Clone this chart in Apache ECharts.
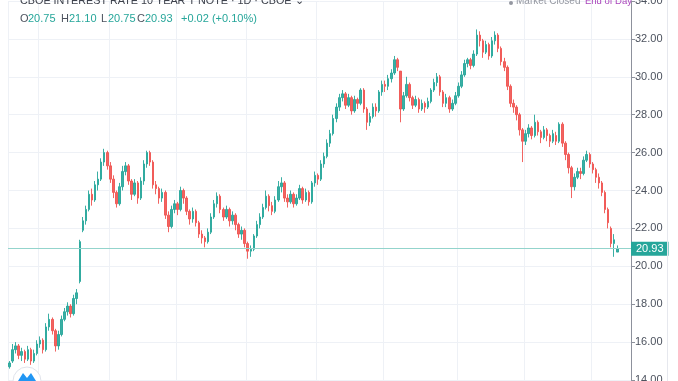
<!DOCTYPE html>
<html><head><meta charset="utf-8">
<script src="https://cdn.jsdelivr.net/npm/echarts@6/dist/echarts.min.js"></script>
<style>html,body{margin:0;padding:0;background:#fff}#c{width:678px;height:381px}</style>
</head><body><div id="c"></div>
<script>
const opens = [14.7,15.0,15.6,15.8,15.3,15.5,15.1,15.6,15.0,15.4,15.9,16.1,15.6,16.8,17.2,16.6,15.8,16.4,17.2,17.6,
17.9,17.5,18.3,19.2,21.9,22.4,23.0,23.8,23.5,24.3,24.6,25.5,26.0,25.3,24.6,23.9,23.3,24.2,25.0,25.3,
24.5,23.8,24.4,23.6,24.5,25.4,26.0,25.5,24.3,24.1,23.6,23.9,22.7,22.1,23.0,23.3,23.0,24.0,23.6,22.9,
22.5,22.9,22.3,21.7,21.5,21.3,21.8,22.6,23.3,23.7,23.0,22.6,23.0,22.4,22.7,22.2,21.7,21.9,21.2,20.8,
20.9,21.6,22.2,22.6,23.1,23.7,23.2,22.9,23.5,24.2,24.4,23.6,23.4,23.8,23.3,23.6,24.1,23.5,23.9,23.4,
24.4,24.8,24.6,25.4,25.8,26.5,27.0,27.8,28.4,28.9,29.1,28.5,28.9,28.2,28.8,28.6,29.3,28.3,27.6,27.9,
28.4,28.2,29.2,29.6,29.5,29.9,30.2,30.9,30.3,28.3,29.0,29.6,28.9,28.5,28.8,28.3,28.6,28.4,28.7,29.3,
29.7,30.0,29.2,28.6,28.9,28.3,28.6,29.0,29.5,30.1,30.7,30.9,30.6,31.2,32.2,31.9,31.3,31.7,31.1,31.9,
32.2,31.5,30.8,30.5,29.5,28.6,28.4,28.0,27.2,26.6,27.0,27.3,26.9,27.6,27.1,26.8,27.2,26.9,26.6,26.9,
26.6,27.5,26.5,25.9,25.2,24.2,24.7,25.0,24.9,25.6,25.9,25.4,25.1,24.7,24.4,23.9,23.0,22.0,21.2,20.75];
const closes = [14.9,15.6,15.8,15.3,15.5,15.1,15.6,15.0,15.4,15.9,16.1,15.6,16.8,17.2,16.6,15.8,16.4,17.2,17.6,17.9,
17.5,18.3,18.6,21.3,22.4,23.0,23.8,23.5,24.3,24.6,25.5,26.0,25.3,24.6,23.9,23.3,24.2,25.0,25.3,24.5,
23.8,24.4,23.6,24.5,25.4,26.0,25.5,24.3,24.1,23.6,23.9,22.7,22.1,23.0,23.3,23.0,24.0,23.6,22.9,22.5,
22.9,22.3,21.7,21.5,21.3,21.8,22.6,23.3,23.7,23.0,22.6,23.0,22.4,22.7,22.2,21.7,21.9,21.2,20.8,20.9,
21.6,22.2,22.6,23.1,23.7,23.2,22.9,23.5,24.2,24.4,23.6,23.4,23.8,23.3,23.6,24.1,23.5,23.9,23.4,24.4,
24.8,24.6,25.4,25.8,26.5,27.0,27.8,28.4,28.9,29.1,28.5,28.9,28.2,28.8,28.6,29.3,28.3,27.6,27.9,28.4,
28.2,29.2,29.6,29.5,29.9,30.2,30.9,30.5,28.3,29.0,29.6,28.9,28.5,28.8,28.3,28.6,28.4,28.7,29.3,29.7,
30.0,29.2,28.6,28.9,28.3,28.6,29.0,29.5,30.1,30.7,30.9,30.6,31.2,32.2,31.9,31.3,31.7,31.1,31.9,32.2,
31.5,30.8,30.5,29.5,28.6,28.4,28.0,27.2,26.6,27.0,27.3,26.9,27.6,27.1,26.8,27.2,26.9,26.6,27.0,26.6,
27.5,26.5,25.9,25.2,24.2,24.7,25.0,24.9,25.6,25.9,25.4,25.1,24.7,24.4,23.9,23.0,22.3,21.2,21.4,20.93];
const lows = [14.6,14.9,15.4,15.1,15.0,14.9,15.0,14.8,14.9,15.3,15.7,15.4,15.5,16.6,16.4,15.5,15.6,16.3,17.1,17.4,
17.3,17.4,18.0,19.1,21.8,22.2,22.9,23.2,23.4,24.0,24.5,25.3,25.1,24.4,23.6,23.1,23.2,24.0,24.8,24.3,
23.5,23.7,23.3,23.5,24.3,25.2,25.3,24.1,23.8,23.3,23.4,22.5,21.8,22.0,22.8,22.7,22.9,23.3,22.7,22.2,
22.3,22.1,21.5,21.2,21.0,21.2,21.7,22.5,23.1,22.8,22.4,22.5,22.1,22.2,21.9,21.5,21.4,21.0,20.4,20.5,
20.8,21.5,22.0,22.5,23.0,22.9,22.7,22.8,23.4,23.9,23.4,23.1,23.3,23.1,23.2,23.5,23.3,23.4,23.2,23.3,
24.2,24.3,24.5,25.2,25.7,26.3,26.9,27.6,28.2,28.7,28.3,28.4,28.0,28.1,28.3,28.5,28.1,27.2,27.4,27.8,
27.9,28.1,29.0,29.2,29.3,29.7,30.1,30.3,27.6,28.2,28.9,28.7,28.3,28.4,28.1,28.2,28.1,28.3,28.6,29.2,
29.5,29.0,28.4,28.4,28.1,28.2,28.5,28.9,29.4,30.0,30.5,30.4,30.5,31.1,31.6,31.0,31.2,30.9,31.0,31.7,
31.3,30.6,30.3,29.3,28.4,28.1,27.7,26.9,25.5,26.4,26.8,26.7,26.8,26.9,26.5,26.7,26.6,26.3,26.5,26.4,
26.5,26.3,25.6,24.9,23.6,24.0,24.6,24.6,24.8,25.5,25.2,24.9,24.4,24.1,23.7,22.8,22.0,21.0,20.5,20.75];
const highs = [15.0,15.9,16.0,15.9,15.7,15.6,15.8,15.7,15.6,16.1,16.3,16.2,17.0,17.5,17.3,16.7,16.6,17.4,17.8,18.1,
18.0,18.5,18.8,21.4,22.6,23.2,24.0,24.1,24.5,25.0,25.7,26.2,26.1,25.5,24.8,24.0,24.4,25.3,25.5,25.4,
24.6,24.6,24.5,24.7,25.6,26.1,26.1,25.6,24.5,24.2,24.1,24.0,22.9,23.2,23.5,23.4,24.2,24.1,23.7,23.0,
23.1,23.0,22.4,21.9,21.6,22.0,22.8,23.5,23.9,23.8,23.1,23.2,23.1,22.9,22.8,22.3,22.1,22.0,21.3,21.1,
21.7,22.4,22.8,23.3,24.0,23.8,23.4,23.7,24.5,24.7,24.5,23.8,24.0,23.9,23.8,24.3,24.2,24.1,24.0,24.5,
25.0,24.9,25.6,26.0,26.7,27.2,28.0,28.6,29.1,29.3,29.2,29.1,29.0,29.0,28.9,29.4,29.4,28.4,28.1,28.6,
28.6,29.3,29.8,29.8,30.1,30.4,31.1,31.0,30.3,29.2,30.0,29.7,29.0,29.0,28.9,28.8,28.7,28.9,29.4,29.9,
30.2,30.1,29.3,29.1,29.0,28.8,29.2,29.7,30.3,30.9,31.0,31.0,31.4,32.5,32.4,32.0,31.9,31.8,32.1,32.4,
32.3,31.6,31.0,30.6,29.6,28.8,28.5,28.1,27.3,27.2,27.5,27.4,28.0,27.7,27.2,27.4,27.3,27.0,27.2,27.1,
27.6,27.6,26.6,26.0,25.3,24.9,25.2,25.2,25.8,26.1,26.0,25.5,25.2,24.9,24.5,24.0,23.1,22.1,21.7,21.10];
const emptyTail = 4;             // blank bars to the right of the last candle
const yTicks = {min: 14, max: 34, step: 2};
const timeGridIdx = [0, 10, 33, 55, 78, 101, 123, 147, 169, 191];
const lastPrice = 20.93;

const n = opens.length + emptyTail;
const cats = Array.from({length: n}, (_, i) => String(i));
const ohlc = opens.map((o, i) => [o, closes[i], lows[i], highs[i]]);

const chart = echarts.init(document.getElementById('c'), null, {renderer: 'canvas'});
const UP = '#26a69a', DOWN = '#ef5350';
const F = '"Liberation Sans", Arial, sans-serif';
chart.setOption({
  animation: false,
  backgroundColor: '#ffffff',
  grid: {left: 8, right: 47, top: 1, bottom: 1, containLabel: false, outerBoundsMode: 'none'},
  xAxis: {
    type: 'category', data: cats, boundaryGap: true,
    axisLine: {show: false}, axisTick: {show: false}, axisLabel: {show: false},
    splitLine: {show: true, interval: (idx) => timeGridIdx.includes(idx), lineStyle: {color: '#eef1f6', width: 1}}
  },
  yAxis: {
    type: 'value', position: 'right', min: yTicks.min, max: yTicks.max, interval: yTicks.step,
    axisLine: {show: true, lineStyle: {color: '#8d919c', width: 1}},
    axisTick: {show: true, length: 4, lineStyle: {color: '#8d919c'}},
    axisLabel: {color: '#4c525e', fontSize: 11, margin: 4, fontFamily: F, formatter: v => v.toFixed(2),
      verticalAlignMinLabel: 'middle', verticalAlignMaxLabel: 'middle'},
    splitLine: {show: true, lineStyle: {color: '#eef1f6', width: 1}}
  },
  series: [{
    type: 'candlestick', data: ohlc, barMaxWidth: 2, barWidth: 2,
    itemStyle: {color: UP, color0: DOWN, borderColor: UP, borderColor0: DOWN, borderWidth: 1, opacity: 0.9},
    markLine: {
      silent: true, symbol: ['none', 'none'], animation: false,
      lineStyle: {color: '#93d4cc', width: 1, type: 'solid'},
      label: {show: true, position: 'end', distance: 0, formatter: lastPrice.toFixed(2),
        backgroundColor: UP, color: '#ffffff', fontSize: 11, padding: [2, 5, 1, 5], fontFamily: F},
      data: [{yAxis: lastPrice}]
    }
  }],
  graphic: [
    {type: 'line', shape: {x1: 667.5, y1: 0, x2: 667.5, y2: 381}, style: {stroke: '#e6e8ee', lineWidth: 1}, z: 10},
    {type: 'text', left: 20, top: -4, style: {text: 'CBOE INTEREST RATE 10 YEAR T NOTE · 1D · CBOE ⌄', fill: '#3d414b',
      font: '10.8px ' + F}, z: 20},
    {type: 'text', left: 20, top: 13, style: {text: 'O', fill: '#4c525e', font: '11px ' + F}, z: 20},
    {type: 'text', left: 28, top: 13, style: {text: '20.75', fill: UP, font: '11px ' + F}, z: 20},
    {type: 'text', left: 61, top: 13, style: {text: 'H', fill: '#4c525e', font: '11px ' + F}, z: 20},
    {type: 'text', left: 69, top: 13, style: {text: '21.10', fill: UP, font: '11px ' + F}, z: 20},
    {type: 'text', left: 101, top: 13, style: {text: 'L', fill: '#4c525e', font: '11px ' + F}, z: 20},
    {type: 'text', left: 108, top: 13, style: {text: '20.75', fill: UP, font: '11px ' + F}, z: 20},
    {type: 'text', left: 137, top: 13, style: {text: 'C', fill: '#4c525e', font: '11px ' + F}, z: 20},
    {type: 'text', left: 145, top: 13, style: {text: '20.93', fill: UP, font: '11px ' + F}, z: 20},
    {type: 'text', left: 181, top: 13, style: {text: '+0.02 (+0.10%)', fill: UP, font: '11px ' + F}, z: 20},
    {type: 'circle', shape: {cx: 511, cy: 3, r: 2}, style: {fill: '#9598a1'}, z: 20},
    {type: 'text', left: 516, top: -4, style: {text: 'Market Closed', fill: '#9598a1', font: '10px ' + F}, z: 20},
    {type: 'text', left: 585, top: -4, style: {text: 'End of Day', fill: '#ab47bc', font: '9.5px ' + F}, z: 20},
    {type: 'circle', shape: {cx: 27, cy: 381, r: 14}, style: {fill: '#ffffff', stroke: '#e0e3eb', lineWidth: 1}, z: 20},
    {type: 'polygon', shape: {points: [[18, 381], [23, 373], [27, 378], [31, 373], [36, 381]]}, style: {fill: '#2196f3'}, z: 21}
  ]
});
</script></body></html>
